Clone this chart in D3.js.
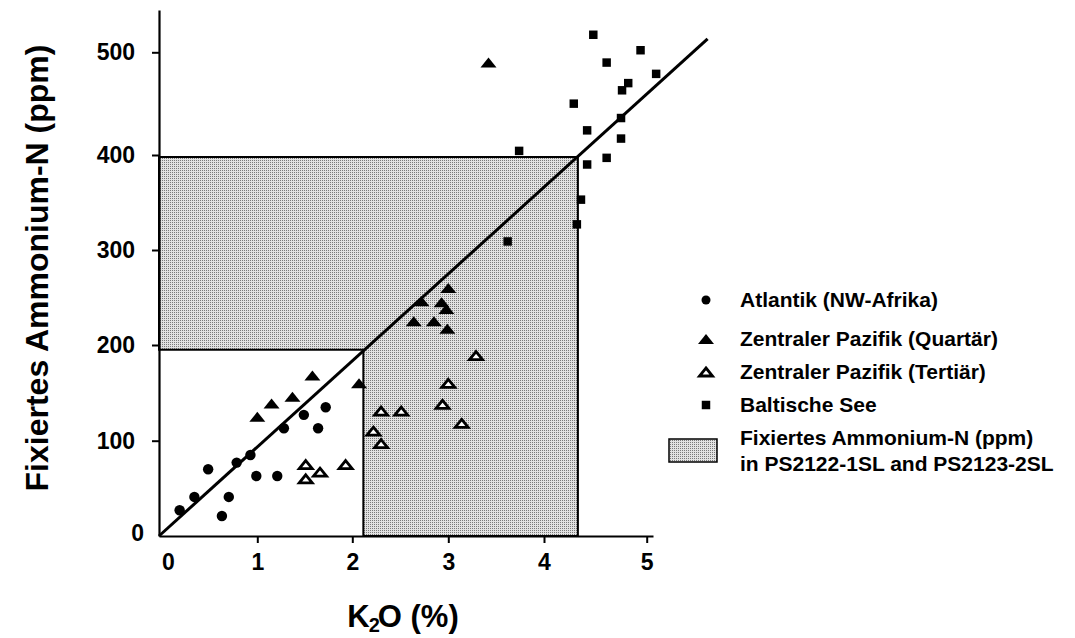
<!DOCTYPE html>
<html>
<head>
<meta charset="utf-8">
<script src="https://cdn.jsdelivr.net/npm/d3@7"></script>
<style>
  body { margin: 0; background: #fff; }
  svg text { font-family: "Liberation Sans", Arial, Helvetica, sans-serif; font-weight: bold; fill: #000; }
</style>
</head>
<body>
<div id="chart"></div>
<script>
// Atlantik (NW-Afrika)
var atlK2O = [0.21, 0.36, 0.50, 0.64, 0.71, 0.79, 0.93, 0.99, 1.21, 1.28, 1.49, 1.64, 1.72];
var atlNH4 = [27, 41, 70, 21, 41, 77, 85, 63, 63, 113, 127, 113, 135];
// Zentraler Pazifik (Quartaer) - gefuellte Dreiecke
var quaK2O = [1.00, 1.15, 1.37, 1.58, 2.07, 2.64, 2.72, 2.85, 2.93, 2.98, 2.99, 3.00, 3.42];
var quaNH4 = [125, 139, 146, 168, 160, 225, 246, 225, 245, 238, 217, 260, 490];
// Zentraler Pazifik (Tertiaer) - offene Dreiecke
var terK2O = [1.51, 1.51, 1.66, 1.93, 2.22, 2.30, 2.30, 2.51, 2.94, 3.00, 3.14, 3.29];
var terNH4 = [75, 60, 67, 75, 110, 97, 131, 131, 138, 160, 118, 189];
// Baltische See
var balK2O = [3.62, 3.74, 4.29, 4.32, 4.36, 4.42, 4.42, 4.48, 4.61, 4.61, 4.75, 4.75, 4.76, 4.82, 4.94, 5.09];
var balNH4 = [309, 404, 450, 327, 353, 424, 390, 517, 490, 397, 416, 436, 463, 470, 502, 479];
// Regressionsgerade
var fitK2O = [0, 5.58];
var fitNH4 = [0, 513];
// Bereich PS2122-1SL / PS2123-2SL
var areaK2O = [2.115, 4.33];
var areaNH4 = [195, 398];

var xTicks = [0, 1, 2, 3, 4, 5];
var yTicks = [0, 100, 200, 300, 400, 500];
var legendLabels = ["Atlantik (NW-Afrika)", "Zentraler Pazifik (Quartär)", "Zentraler Pazifik (Tertiär)", "Baltische See"];
var areaLabel = ["Fixiertes Ammonium-N (ppm)", "in PS2122-1SL and PS2123-2SL"];

var w = 1075, h = 638;

// Achsen sind im Original nicht ganz gleichmaessig geteilt
var x = d3.scaleLinear()
  .domain([0, 1, 2, 3, 4, 5, 5.06])
  .range([159, 257.3, 352.3, 448.3, 544, 646.7, 653]);
var y = d3.scaleLinear()
  .domain([0, 100, 200, 300, 400, 500, 541])
  .range([536, 440.7, 345, 250, 155, 52.3, 10]);

var svg = d3.select("#chart").append("svg")
  .attr("width", w)
  .attr("height", h);

svg.append("rect").attr("width", w).attr("height", h).attr("fill", "#fff");

var defs = svg.append("defs");
var pat = defs.append("pattern")
  .attr("id", "dots")
  .attr("patternUnits", "userSpaceOnUse")
  .attr("width", 2).attr("height", 2);
pat.append("rect").attr("width", 2).attr("height", 2).attr("fill", "#e2e2e2");
pat.append("rect").attr("width", 1).attr("height", 1).attr("fill", "#7a7a7a");

// schattierter Bereich
var area = [
  [0, areaNH4[0]], [areaK2O[0], areaNH4[0]], [areaK2O[0], 0],
  [areaK2O[1], 0], [areaK2O[1], areaNH4[1]], [0, areaNH4[1]]
];
svg.append("path")
  .attr("d", d3.line().x(function(d) { return x(d[0]); }).y(function(d) { return y(d[1]); })(area) + "Z")
  .attr("fill", "url(#dots)")
  .attr("stroke", "#000")
  .attr("stroke-width", 2);

// Achsen
var xAxis = d3.axisBottom(x).tickValues(xTicks).tickFormat(d3.format("d")).tickSize(7).tickSizeOuter(0).tickPadding(11);
var yAxis = d3.axisLeft(y).tickValues(yTicks).tickFormat(d3.format("d")).tickSize(7).tickSizeOuter(0).tickPadding(17);

var gx = svg.append("g").attr("transform", "translate(0," + y(0) + ")").call(xAxis);
var gy = svg.append("g").attr("transform", "translate(" + x(0) + ",0)").call(yAxis);

[gx, gy].forEach(function(g) {
  g.attr("font-family", null).attr("font-size", null);
  g.select(".domain").attr("stroke-width", 2.2);
  g.selectAll(".tick line").attr("stroke-width", 2);
  g.selectAll(".tick text").style("font-size", "23px");
});
gx.selectAll(".tick").filter(function(d) { return d === 0; }).select("line").remove();
gx.selectAll(".tick text").filter(function(d) { return d === 0; }).attr("dx", 9);
gy.selectAll(".tick").filter(function(d) { return d === 0; }).select("line").remove();
gy.selectAll(".tick text").filter(function(d) { return d === 0; }).attr("x", -15).attr("dy", "0.2em");

// Regressionsgerade
svg.append("line")
  .attr("x1", x(fitK2O[0])).attr("y1", y(fitNH4[0]))
  .attr("x2", x(fitK2O[1])).attr("y2", y(fitNH4[1]))
  .attr("stroke", "#000")
  .attr("stroke-width", 3);

function triangle(wd, ht) {
  return {
    draw: function(ctx) {
      ctx.moveTo(0, -ht / 2);
      ctx.lineTo(wd / 2, ht / 2);
      ctx.lineTo(-wd / 2, ht / 2);
      ctx.closePath();
    }
  };
}
var filledTri = d3.symbol().type(triangle(16, 10));
var openTri = d3.symbol().type(triangle(13, 8));
var square = d3.symbol().type(d3.symbolSquare).size(72);

function pairs(a, b) { return a.map(function(v, i) { return [v, b[i]]; }); }

svg.append("g").selectAll("circle")
  .data(pairs(atlK2O, atlNH4))
  .enter().append("circle")
  .attr("cx", function(d) { return x(d[0]); })
  .attr("cy", function(d) { return y(d[1]); })
  .attr("r", 5.2)
  .attr("fill", "#000");

svg.append("g").selectAll("path")
  .data(pairs(quaK2O, quaNH4))
  .enter().append("path")
  .attr("d", filledTri)
  .attr("transform", function(d) { return "translate(" + x(d[0]) + "," + y(d[1]) + ")"; })
  .attr("fill", "#000");

svg.append("g").selectAll("path")
  .data(pairs(terK2O, terNH4))
  .enter().append("path")
  .attr("d", openTri)
  .attr("transform", function(d) { return "translate(" + x(d[0]) + "," + y(d[1]) + ")"; })
  .attr("fill", "#fff")
  .attr("stroke", "#000")
  .attr("stroke-width", 2.8)
  .attr("stroke-linejoin", "miter");

svg.append("g").selectAll("path")
  .data(pairs(balK2O, balNH4))
  .enter().append("path")
  .attr("d", square)
  .attr("transform", function(d) { return "translate(" + x(d[0]) + "," + y(d[1]) + ")"; })
  .attr("fill", "#000");

// Achsentitel
svg.append("text")
  .attr("transform", "translate(48,268) rotate(-90)")
  .attr("text-anchor", "middle")
  .attr("font-size", "32px")
  .text("Fixiertes Ammonium-N (ppm)");

var xt = svg.append("text")
  .attr("x", 403).attr("y", 627)
  .attr("text-anchor", "middle")
  .attr("font-size", "31px");
xt.append("tspan").text("K");
xt.append("tspan").attr("font-size", "20px").attr("dy", 5).attr("dx", -1).text("2");
xt.append("tspan").attr("dy", -5).attr("dx", -2).text("O (%)");

// Legende
var legY = [307, 346, 379, 412];
var leg = svg.append("g");
leg.selectAll("text.lab")
  .data(legendLabels)
  .enter().append("text")
  .attr("class", "lab")
  .attr("x", 740)
  .attr("y", function(d, i) { return legY[i]; })
  .attr("font-size", "21px")
  .text(function(d) { return d; });

var symX = 706;
leg.append("circle").attr("cx", symX).attr("cy", legY[0] - 7).attr("r", 4.5).attr("fill", "#000");
leg.append("path").attr("d", filledTri).attr("transform", "translate(" + symX + "," + (legY[1] - 7) + ")").attr("fill", "#000");
leg.append("path").attr("d", openTri).attr("transform", "translate(" + symX + "," + (legY[2] - 7) + ")")
  .attr("fill", "#fff").attr("stroke", "#000").attr("stroke-width", 2.8);
leg.append("path").attr("d", square).attr("transform", "translate(" + symX + "," + (legY[3] - 7) + ")").attr("fill", "#000");

leg.append("rect")
  .attr("x", 669).attr("y", 439).attr("width", 48).attr("height", 23)
  .attr("fill", "url(#dots)")
  .attr("stroke", "#000")
  .attr("stroke-width", 1.5);
leg.selectAll("text.area")
  .data(areaLabel)
  .enter().append("text")
  .attr("class", "area")
  .attr("x", 740)
  .attr("y", function(d, i) { return 445 + i * 26; })
  .attr("font-size", "21px")
  .text(function(d) { return d; });
</script>
</body>
</html>
